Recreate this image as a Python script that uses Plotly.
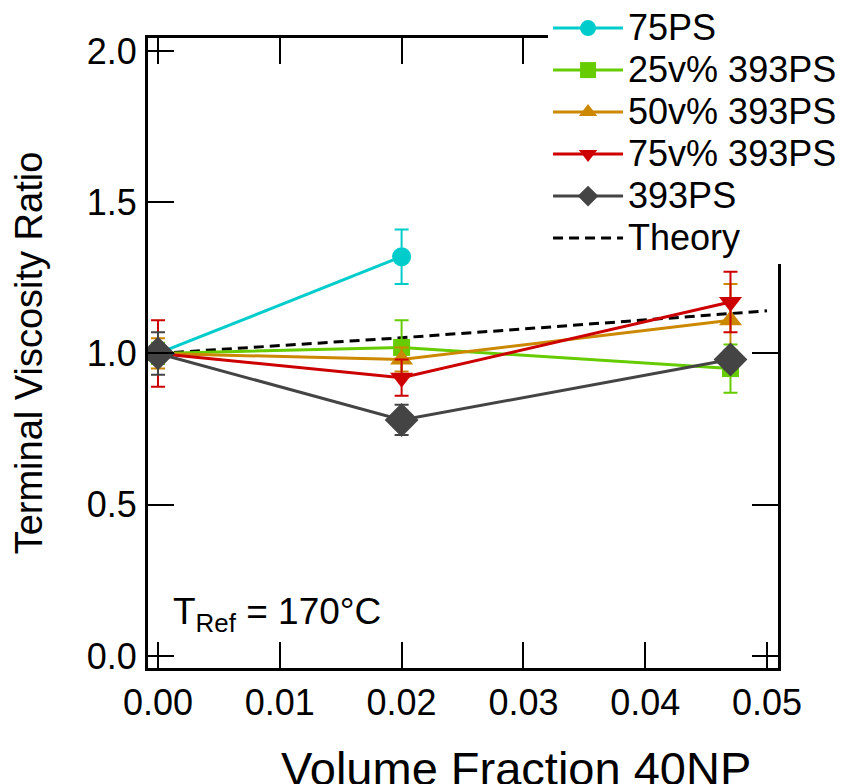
import plotly.graph_objects as go

# ---- data ----
x_75ps = [0.0, 0.02]
y_75ps = [1.0, 1.32]
e_75ps = [0.02, 0.09]

x_25 = [0.0, 0.02, 0.047]
y_25 = [1.0, 1.02, 0.95]
e_25 = [0.035, 0.09, 0.08]

x_50 = [0.0, 0.02, 0.047]
y_50 = [1.0, 0.98, 1.11]
e_50 = [0.05, 0.04, 0.12]

x_75 = [0.0, 0.02, 0.047]
y_75 = [1.0, 0.92, 1.17]
e_75 = [0.11, 0.06, 0.10]

x_393 = [0.0, 0.02, 0.047]
y_393 = [1.0, 0.78, 0.98]
e_393 = [0.07, 0.05, 0.03]

x_theory = [0.0, 0.01, 0.02, 0.03, 0.04, 0.05]
y_theory = [1.0, 1.026, 1.052, 1.081, 1.110, 1.141]

FONT = "Liberation Sans, Arial, sans-serif"
LEG = '<span style="font-size:36px">%s</span>'

fig = go.Figure()

fig.add_trace(go.Scatter(x=x_theory, y=y_theory, mode="lines", name=LEG % "Theory",
                         line=dict(color="black", width=3, dash="10px,6px"),
                         legendrank=6))

def series(x, y, e, name, color, symbol, size, rank):
    fig.add_trace(go.Scatter(
        x=x, y=y, name=LEG % name, mode="lines+markers",
        line=dict(color=color, width=3),
        marker=dict(color=color, symbol=symbol, size=size, line=dict(width=0)),
        error_y=dict(type="data", array=e, visible=True, color=color,
                     thickness=2, width=7),
        legendrank=rank))

series(x_75ps, y_75ps, e_75ps, "75PS", "#00CCCC", "circle", 19, 1)
series(x_25, y_25, e_25, "25v% 393PS", "#66CC00", "square", 17, 2)
series(x_50, y_50, e_50, "50v% 393PS", "#CC8800", "triangle-up", 20, 3)
series(x_75, y_75, e_75, "75v% 393PS", "#CC0000", "triangle-down", 20, 4)
series(x_393, y_393, e_393, "393PS", "#444444", "diamond", 26, 5)

fig.add_annotation(x=0.0011, y=0.14, xref="x", yref="y", xanchor="left", yanchor="middle",
                   text="T<sub>Ref</sub> = 170°C", showarrow=False,
                   font=dict(family=FONT, size=37, color="black"))

# x-axis title (offset to the right as in the reference)
fig.add_annotation(x=0.584, y=-0.115, xref="paper", yref="paper", xanchor="center", yanchor="top",
                   text="Volume Fraction 40NP", showarrow=False,
                   font=dict(family=FONT, size=47, color="black"))

axis_common = dict(showline=True, linecolor="black", linewidth=3, mirror="ticks",
                   ticks="inside", ticklen=26, tickwidth=2, tickcolor="black",
                   showgrid=False, zeroline=False,
                   tickfont=dict(family=FONT, size=36, color="black"))

fig.update_xaxes(range=[-0.00082, 0.0509], dtick=0.01, tick0=0, tickformat=".2f",
                 ticklabelstandoff=1, **axis_common)
fig.update_yaxes(range=[-0.04, 2.043], dtick=0.5, tick0=0, tickformat=".1f",
                 title=dict(text="Terminal Viscosity Ratio", font=dict(family=FONT, size=38, color="black"),
                            standoff=33),
                 ticklabelstandoff=1, **axis_common)

fig.update_layout(
    width=859, height=784,
    margin=dict(l=148, r=81, t=38, b=116, autoexpand=False),
    plot_bgcolor="white", paper_bgcolor="white",
    font=dict(family=FONT, color="black"),
    legend=dict(x=0.635, y=1.057, xanchor="left", yanchor="top", bgcolor="white",
                font=dict(family=FONT, size=30, color="black"), tracegroupgap=0,
                borderwidth=0, itemwidth=70),
)

fig.write_html("out.html")
